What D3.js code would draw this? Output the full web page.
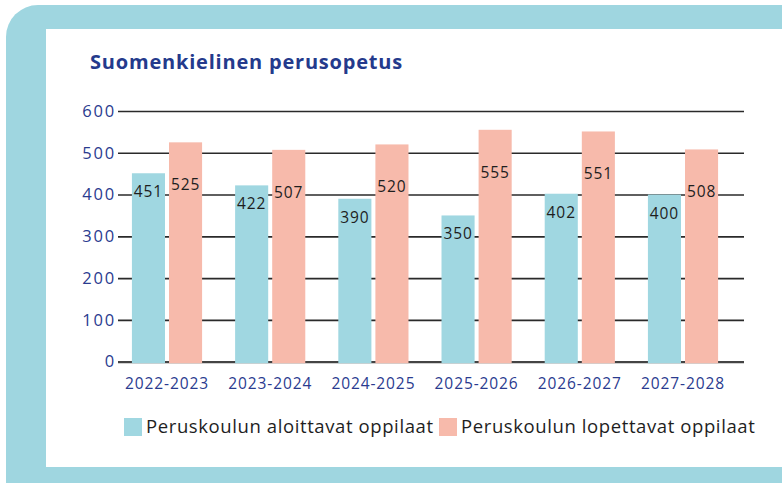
<!DOCTYPE html>
<html>
<head>
<meta charset="utf-8">
<script src="https://cdn.jsdelivr.net/npm/d3@7/dist/d3.min.js"></script>
<style>
  html, body { margin: 0; padding: 0; background: #fff; }
  svg { display: block; }
</style>
</head>
<body>
<svg id="chart" width="782" height="483"></svg>
<script>
const title = "Suomenkielinen perusopetus";
const categories = ["2022-2023", "2023-2024", "2024-2025", "2025-2026", "2026-2027", "2027-2028"];
const seriesNames = ["Peruskoulun aloittavat oppilaat", "Peruskoulun lopettavat oppilaat"];
const aloittavat = [451, 422, 390, 350, 402, 400];
const lopettavat = [525, 507, 520, 555, 551, 508];
const yTicks = [0, 100, 200, 300, 400, 500, 600];

const colors = ["#a0d7e1", "#f7baab"];
const navy = "#2a3b8f";
const frameBlue = "#9fd6e0";
const font = "'Open Sans', sans-serif";

const svg = d3.select("#chart");

// Frame
svg.append("rect").attr("x", 6).attr("y", 5).attr("width", 840).attr("height", 520)
  .attr("rx", 32).attr("ry", 32).attr("fill", frameBlue);
svg.append("rect").attr("x", 46).attr("y", 29).attr("width", 800).attr("height", 438)
  .attr("fill", "#fff");

// Title
svg.append("text").attr("x", 90).attr("y", 69)
  .attr("font-family", font).attr("font-weight", 700).attr("font-size", 20)
  .attr("letter-spacing", 0.8)
  .attr("fill", "#243a8c").text(title);

// Scales
const y = d3.scaleLinear().domain([0, 600]).range([361.7, 111]);
const x0 = d3.scaleBand().domain(categories).range([115.4, 734.6])
  .paddingInner(0.32).paddingOuter(0.16);
const x1 = d3.scaleBand().domain(d3.range(seriesNames.length)).range([0, x0.bandwidth()])
  .paddingInner(0.108);

// Gridlines + y labels
const yAxis = d3.axisLeft(y).tickValues(yTicks).tickSize(-626).tickPadding(2).tickFormat(d3.format("d"));
const gy = svg.append("g").attr("transform", "translate(118,0)").call(yAxis);
gy.select(".domain").remove();
gy.selectAll(".tick line").attr("stroke", "#2a2a2a").attr("stroke-width", 1.6);
gy.selectAll(".tick text").attr("font-family", font).attr("font-size", 16.5)
  .attr("letter-spacing", 1.8).attr("fill", navy);
gy.selectAll(".tick").filter(d => d === 0).select("line").attr("stroke", "#444").attr("stroke-width", 2.2);

// Bars
const data = categories.map((c, i) => ({ cat: c, vals: [aloittavat[i], lopettavat[i]] }));
const labelOffsets = [24, 48];
const groups = svg.append("g").selectAll("g").data(data).join("g")
  .attr("transform", d => `translate(${x0(d.cat)},0)`);
groups.selectAll("rect").data(d => d.vals.map((v, s) => ({ v, s }))).join("rect")
  .attr("x", d => x1(d.s)).attr("width", x1.bandwidth())
  .attr("y", d => y(d.v)).attr("height", d => y(0) - y(d.v) + 1.5)
  .attr("fill", d => colors[d.s]);
groups.selectAll("text").data(d => d.vals.map((v, s) => ({ v, s }))).join("text")
  .attr("x", d => x1(d.s) + x1.bandwidth() / 2)
  .attr("y", d => y(d.v) + labelOffsets[d.s])
  .attr("text-anchor", "middle")
  .attr("font-family", font).attr("font-size", 15.5).attr("letter-spacing", 0.9)
  .attr("fill", "#1e1e1e").text(d => d.v);

// X axis labels
const xAxis = d3.axisBottom(x0).tickSize(0).tickPadding(0);
const gx = svg.append("g").attr("transform", "translate(0,373)").call(xAxis);
gx.select(".domain").remove();
gx.selectAll(".tick text").attr("font-family", font).attr("font-size", 15.5)
  .attr("letter-spacing", 0.9).attr("fill", navy).attr("dy", "1em");

// Legend
const legend = svg.append("g");
const legendX = [124, 439];
seriesNames.forEach((name, i) => {
  legend.append("rect").attr("x", legendX[i]).attr("y", 418).attr("width", 18).attr("height", 18)
    .attr("fill", colors[i]);
  legend.append("text").attr("x", legendX[i] + 22).attr("y", 433)
    .attr("font-family", font).attr("font-size", 18.5).attr("letter-spacing", 0.6)
    .attr("fill", "#1e1e1e").text(name);
});
</script>
</body>
</html>
